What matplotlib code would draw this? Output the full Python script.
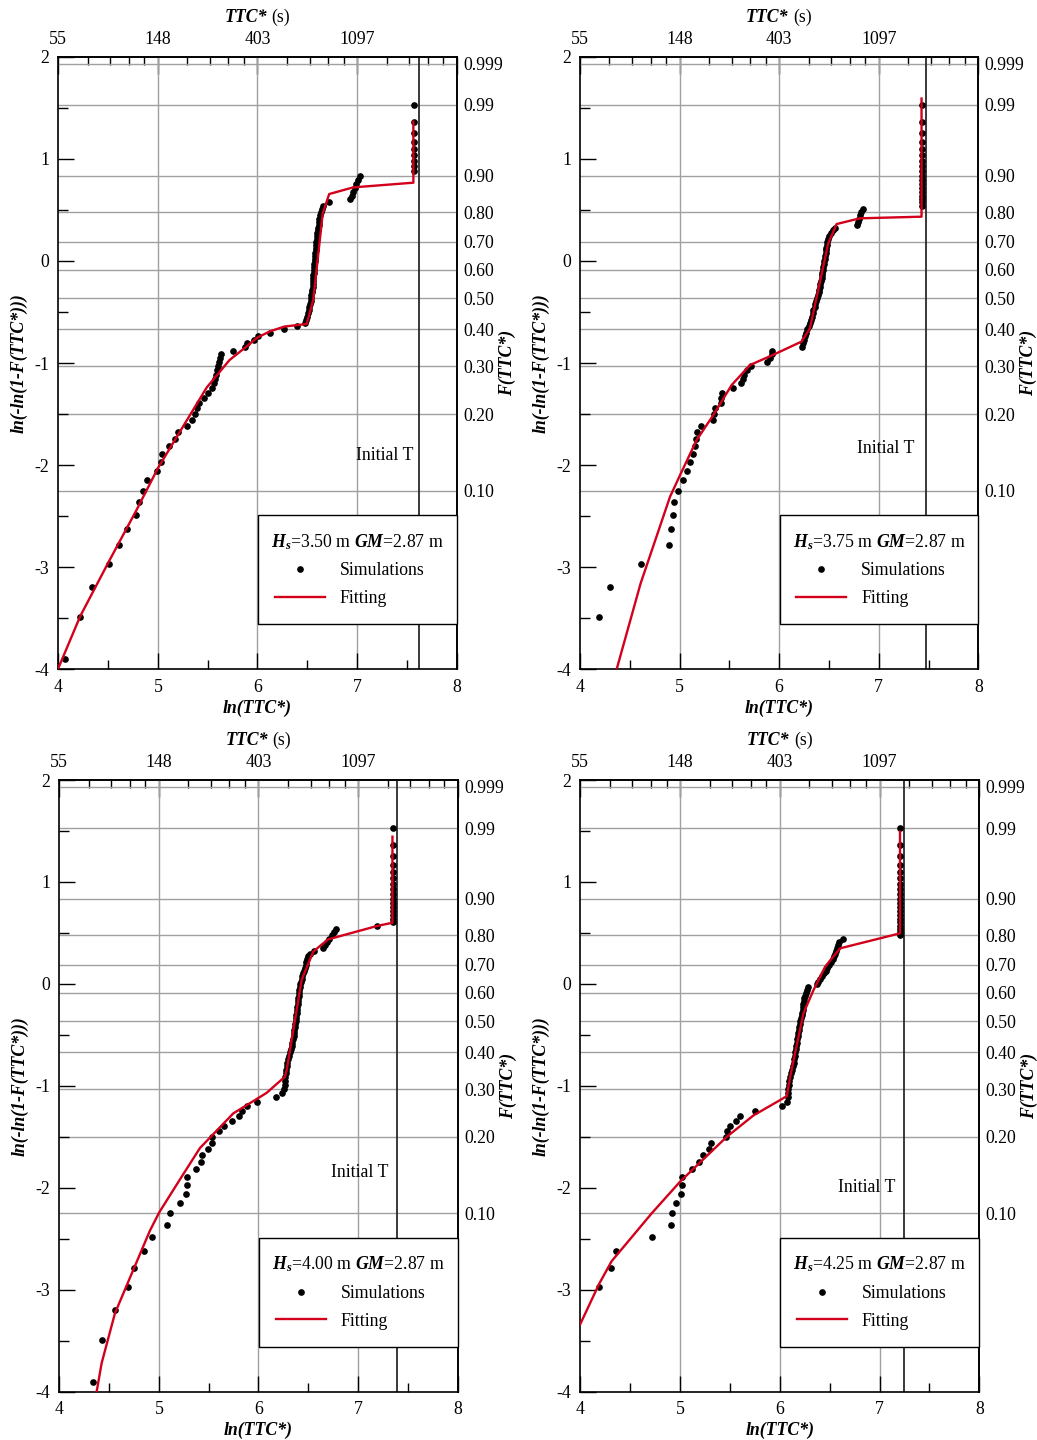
import numpy as np
import matplotlib
matplotlib.use("Agg")
import matplotlib.pyplot as plt
from matplotlib.ticker import FixedLocator

plt.rcParams['font.family'] = ['Liberation Serif', 'DejaVu Serif']
plt.rcParams['mathtext.fontset'] = 'custom'
plt.rcParams['mathtext.rm'] = 'Liberation Serif'
plt.rcParams['mathtext.it'] = 'Liberation Serif:italic'
plt.rcParams['mathtext.bf'] = 'Liberation Serif:bold'
plt.rcParams['mathtext.bfit'] = 'Liberation Serif:italic:bold'

# ---------------- data ----------------
plot_pos = [0.01, 0.02, 0.03, 0.04, 0.05, 0.06, 0.07, 0.08, 0.09, 0.10,
            0.11, 0.12, 0.13, 0.14, 0.15, 0.16, 0.17, 0.18, 0.19, 0.20,
            0.21, 0.22, 0.23, 0.24, 0.25, 0.26, 0.27, 0.28, 0.29, 0.30,
            0.31, 0.32, 0.33, 0.34, 0.35, 0.36, 0.37, 0.38, 0.39, 0.40,
            0.41, 0.42, 0.43, 0.44, 0.45, 0.46, 0.47, 0.48, 0.49, 0.50,
            0.51, 0.52, 0.53, 0.54, 0.55, 0.56, 0.57, 0.58, 0.59, 0.60,
            0.61, 0.62, 0.63, 0.64, 0.65, 0.66, 0.67, 0.68, 0.69, 0.70,
            0.71, 0.72, 0.73, 0.74, 0.75, 0.76, 0.77, 0.78, 0.79, 0.80,
            0.81, 0.82, 0.83, 0.84, 0.85, 0.86, 0.87, 0.88, 0.89, 0.90,
            0.91, 0.92, 0.93, 0.94, 0.95, 0.96, 0.97, 0.98, 0.99]

hs_values = ['3.50', '3.75', '4.00', '4.25']
gm_value = '2.87'
first_rank = [2, 3, 2, 5]          # rank of first visible simulation point

sim_x_1 = [4.067, 4.22, 4.335, 4.51, 4.61, 4.69, 4.78, 4.81,
           4.847, 4.888, 4.994, 5.03, 5.04, 5.11, 5.17, 5.205, 5.295, 5.34,
           5.37, 5.39, 5.415, 5.46, 5.50, 5.54, 5.566, 5.573, 5.58, 5.59,
           5.60, 5.61, 5.62, 5.63, 5.757, 5.875, 5.89, 5.965, 6.01, 6.125,
           6.27, 6.40, 6.475, 6.49, 6.495, 6.505, 6.515, 6.52, 6.527, 6.533,
           6.538, 6.542, 6.546, 6.55, 6.553, 6.556, 6.558, 6.56, 6.562, 6.564,
           6.566, 6.568, 6.571, 6.574, 6.576, 6.579, 6.582, 6.584, 6.587, 6.59,
           6.592, 6.595, 6.598, 6.601, 6.605, 6.609, 6.613, 6.617, 6.622, 6.627,
           6.635, 6.645, 6.66, 6.72, 6.93, 6.945, 6.96, 6.975, 6.99, 7.005,
           7.025, 7.575, 7.575, 7.575, 7.575, 7.575, 7.575, 7.575, 7.575, 7.575]

sim_x_2 = [4.19, 4.30, 4.61, 4.89, 4.91, 4.935, 4.945,
           4.98, 5.03, 5.07, 5.10, 5.13, 5.155, 5.16, 5.18, 5.215, 5.34,
           5.35, 5.355, 5.42, 5.42, 5.425, 5.54, 5.62, 5.633, 5.647, 5.673,
           5.72, 5.88, 5.91, 5.925, 5.93, 6.225, 6.24, 6.252, 6.262, 6.272,
           6.283, 6.296, 6.309, 6.319, 6.329, 6.336, 6.343, 6.356, 6.363, 6.373,
           6.38, 6.386, 6.396, 6.403, 6.41, 6.413, 6.42, 6.426, 6.43, 6.433,
           6.436, 6.443, 6.446, 6.45, 6.456, 6.46, 6.466, 6.47, 6.473, 6.476,
           6.483, 6.49, 6.50, 6.517, 6.537, 6.56, 6.78, 6.79, 6.80, 6.81,
           6.825, 6.84, 7.43, 7.43, 7.43, 7.43, 7.43, 7.43, 7.43, 7.43,
           7.43, 7.43, 7.43, 7.43, 7.43, 7.43, 7.43, 7.43, 7.43, 7.43]

sim_x_3 = [4.341, 4.425, 4.559, 4.693, 4.75, 4.853, 4.927, 5.084,
           5.111, 5.211, 5.272, 5.278, 5.285, 5.372, 5.422, 5.429, 5.496, 5.53,
           5.536, 5.606, 5.653, 5.73, 5.807, 5.83, 5.88, 5.98, 6.18, 6.24,
           6.255, 6.262, 6.267, 6.27, 6.275, 6.28, 6.285, 6.29, 6.30, 6.31,
           6.317, 6.325, 6.333, 6.34, 6.347, 6.352, 6.356, 6.36, 6.365, 6.369,
           6.372, 6.375, 6.379, 6.383, 6.386, 6.389, 6.392, 6.395, 6.398, 6.402,
           6.405, 6.408, 6.412, 6.416, 6.425, 6.432, 6.44, 6.448, 6.457, 6.466,
           6.473, 6.48, 6.49, 6.50, 6.52, 6.56, 6.65, 6.67, 6.69, 6.71,
           6.74, 6.76, 6.78, 7.19, 7.353, 7.353, 7.353, 7.353, 7.353, 7.353,
           7.353, 7.353, 7.353, 7.353, 7.353, 7.353, 7.353, 7.353, 7.353, 7.353]

sim_x_4 = [4.19, 4.308, 4.355, 4.716, 4.91,
           4.916, 4.957, 5.01, 5.017, 5.017, 5.124, 5.19, 5.234, 5.288, 5.308,
           5.462, 5.475, 5.50, 5.56, 5.60, 5.75, 6.02, 6.07, 6.078, 6.082,
           6.086, 6.09, 6.095, 6.10, 6.11, 6.12, 6.13, 6.14, 6.145, 6.15,
           6.155, 6.16, 6.165, 6.17, 6.175, 6.18, 6.185, 6.19, 6.197, 6.20,
           6.207, 6.213, 6.22, 6.225, 6.23, 6.232, 6.235, 6.24, 6.245, 6.25,
           6.26, 6.27, 6.28, 6.37, 6.38, 6.40, 6.42, 6.44, 6.46, 6.47,
           6.49, 6.51, 6.53, 6.54, 6.55, 6.56, 6.57, 6.58, 6.595, 6.63,
           7.20, 7.20, 7.20, 7.20, 7.20, 7.20, 7.20, 7.20, 7.20, 7.20,
           7.20, 7.20, 7.20, 7.20, 7.20, 7.20, 7.20, 7.20, 7.20, 7.20]

fit_x_1 = [4.00, 4.22, 4.51, 4.78, 5.00, 5.26, 5.49, 5.72, 5.875, 6.00, 6.125,
           6.27, 6.494, 6.56, 6.655, 6.72, 6.96, 7.565, 7.565]
fit_y_1 = [-3.99, -3.48, -2.94, -2.45, -2.03, -1.61, -1.24, -0.97, -0.85, -0.75, -0.69,
           -0.643, -0.618, -0.38, 0.466, 0.655, 0.72, 0.766, 1.363]

fit_x_2 = [4.368, 4.609, 4.904, 5.004, 5.171, 5.339, 5.523, 5.707, 5.94, 6.226,
           6.309, 6.493, 6.577, 6.81, 7.43, 7.43]
fit_y_2 = [-4.0, -3.158, -2.31, -2.10, -1.755, -1.51, -1.216, -1.02, -0.92, -0.79,
           -0.661, 0.172, 0.361, 0.417, 0.433, 1.59]

fit_x_3 = [4.375, 4.425, 4.559, 4.693, 4.91, 5.004, 5.21, 5.412, 5.747, 6.08, 6.266,
           6.283, 6.433, 6.50, 6.55, 6.617, 6.70, 7.19, 7.345, 7.345]
fit_y_3 = [-4.0, -3.72, -3.23, -2.92, -2.42, -2.24, -1.92, -1.61, -1.27, -1.07, -0.91,
           -0.845, 0.038, 0.20, 0.316, 0.372, 0.437, 0.568, 0.60, 1.444]

fit_x_4 = [4.0, 4.19, 4.314, 4.716, 5.0, 5.468, 5.736, 6.02, 6.07, 6.104, 6.237,
           6.338, 6.455, 6.605, 7.205, 7.205]
fit_y_4 = [-3.336, -2.94, -2.72, -2.25, -1.94, -1.5, -1.29, -1.13, -1.10, -0.91, -0.289,
           -0.06, 0.169, 0.349, 0.496, 1.493]

initial_T = [7.625, 7.474, 7.387, 7.248]
initial_T_text_x = [7.56, 7.36, 7.30, 7.155]
initial_T_text_y = [-1.95, -1.88, -1.894, -2.041]

top_tick_labels = ['55', '148', '403', '1097', '']
F_ticks = [0.999, 0.99, 0.90, 0.80, 0.70, 0.60, 0.50, 0.40, 0.30, 0.20, 0.10]
F_tick_labels = ['0.999', '0.99', '0.90', '0.80', '0.70', '0.60', '0.50',
                 '0.40', '0.30', '0.20', '0.10']

sim_x_all = [sim_x_1, sim_x_2, sim_x_3, sim_x_4]
fit_x_all = [fit_x_1, fit_x_2, fit_x_3, fit_x_4]
fit_y_all = [fit_y_1, fit_y_2, fit_y_3, fit_y_4]

# ---------------- styling ----------------
RED = '#d3001c'
GRID = '#a0a0a0'
FS = 12.8

axes_rects = [
    [58.3 / 1037, 1 - 669.3 / 1440, 398.4 / 1037, 612.6 / 1440],
    [580.0 / 1037, 1 - 669.3 / 1440, 398.3 / 1037, 612.6 / 1440],
    [59.3 / 1037, 1 - 1391.7 / 1440, 398.4 / 1037, 611.7 / 1440],
    [580.3 / 1037, 1 - 1391.7 / 1440, 399.0 / 1037, 611.7 / 1440],
]


def gumbel(F):
    F = np.asarray(F, dtype=float)
    return np.log(-np.log(1.0 - F))


top_minor = []
for n in range(4, 8):
    a, b = np.exp(n), np.exp(n + 1)
    for k in range(1, 5):
        top_minor.append(np.log(a + k * (b - a) / 5.0))

fig = plt.figure(figsize=(10.37, 14.4), dpi=100)

for i in range(4):
    ax = fig.add_axes(axes_rects[i])
    ax.set_xlim(4, 8)
    ax.set_ylim(-4, 2)

    # grid lines
    for fy in gumbel(F_ticks):
        ax.axhline(fy, color=GRID, lw=1.0, zorder=1)
    for gx in [5, 6, 7]:
        ax.axvline(gx, color=GRID, lw=1.0, zorder=1)

    # initial T
    ax.axvline(initial_T[i], color='#2a2a2a', lw=1.3, zorder=2)
    ax.text(initial_T_text_x[i], initial_T_text_y[i], 'Initial T', ha='right',
            va='baseline', fontsize=FS, zorder=2)

    # data
    xs = sim_x_all[i]
    start = first_rank[i] - 1
    Fs = plot_pos[start:start + len(xs)]
    pts, = ax.plot(xs, gumbel(Fs), 'o', ms=3.8, color='black', mec='black',
                   zorder=3, label='Simulations', clip_on=True)
    fl, = ax.plot(fit_x_all[i], fit_y_all[i], '-', color=RED, lw=1.7, zorder=4,
                  label='Fitting')

    # ticks
    ax.set_xticks([4, 5, 6, 7, 8])
    ax.set_xticklabels(['4', '5', '6', '7', '8'])
    ax.set_xticks([4.5, 5.5, 6.5, 7.5], minor=True)
    ax.set_yticks([-4, -3, -2, -1, 0, 1, 2])
    ax.set_yticklabels(['-4', '-3', '-2', '-1', '0', '1', '2'])
    ax.set_yticks([-3.5, -2.5, -1.5, -0.5, 0.5, 1.5], minor=True)
    ax.tick_params(axis='both', which='both', direction='in', top=False, right=False,
                   labelsize=FS, color='black', width=1.0)
    ax.tick_params(axis='y', which='major', length=11.5, pad=6.5)
    ax.tick_params(axis='y', which='minor', length=7.2)
    ax.tick_params(axis='x', which='major', length=11.5, pad=7)
    ax.tick_params(axis='x', which='minor', length=6.5)
    for sp in ax.spines.values():
        sp.set_linewidth(1.2)
        sp.set_color('black')

    # top axis
    sec = ax.secondary_xaxis('top')
    sec.set_xticks([4, 5, 6, 7, 8])
    sec.set_xticklabels(top_tick_labels)
    sec.xaxis.set_minor_locator(FixedLocator(top_minor))
    sec.tick_params(which='both', direction='in', labelsize=FS, width=1.0)
    sec.tick_params(which='major', length=12, pad=6.4)
    sec.tick_params(which='minor', length=6)
    sec.spines['top'].set_linewidth(1.2)

    # right axis
    secy = ax.secondary_yaxis('right')
    secy.set_yticks(gumbel(F_ticks))
    secy.set_yticklabels(F_tick_labels)
    secy.tick_params(length=0, pad=4.7, labelsize=FS)
    secy.spines['right'].set_linewidth(1.2)

    # axis labels
    ax.text(0.5, -0.063, 'ln(TTC*)', transform=ax.transAxes, ha='center', va='center',
            fontsize=FS, fontweight='bold', fontstyle='italic')
    ax.text(-0.098, 0.5, 'ln(-ln(1-F(TTC*)))', transform=ax.transAxes, rotation=90,
            ha='center', va='center', fontsize=FS, fontweight='bold', fontstyle='italic')
    ax.text(1.126, 0.5, 'F(TTC*)', transform=ax.transAxes, rotation=90,
            ha='center', va='center', fontsize=FS, fontweight='bold', fontstyle='italic')
    ax.text(0.5237, 1.0648, 'TTC*', transform=ax.transAxes, ha='right', va='center',
            fontsize=FS, fontweight='bold', fontstyle='italic')
    ax.text(0.5357, 1.0648, '(s)', transform=ax.transAxes, ha='left', va='center',
            fontsize=FS)

    # legend
    title = (r'$\mathbfit{H}_{\mathbfit{s}}$=' + hs_values[i] +
             r' m $\mathbfit{GM}$=' + gm_value + ' m')
    leg = ax.legend(handles=[pts, fl], labels=['Simulations', 'Fitting'], title=title,
                    loc='center', bbox_to_anchor=(0.501, 0.0755, 0.4995, 0.1745),
                    mode='expand', borderaxespad=0, fancybox=False, framealpha=1,
                    edgecolor='black', fontsize=FS, title_fontsize=FS,
                    handlelength=2.8, handletextpad=0.85, borderpad=0.95,
                    labelspacing=0.6, numpoints=1)
    leg.get_frame().set_linewidth(1.0)
    leg.set_zorder(6)

fig.savefig('out.png', dpi=100)
